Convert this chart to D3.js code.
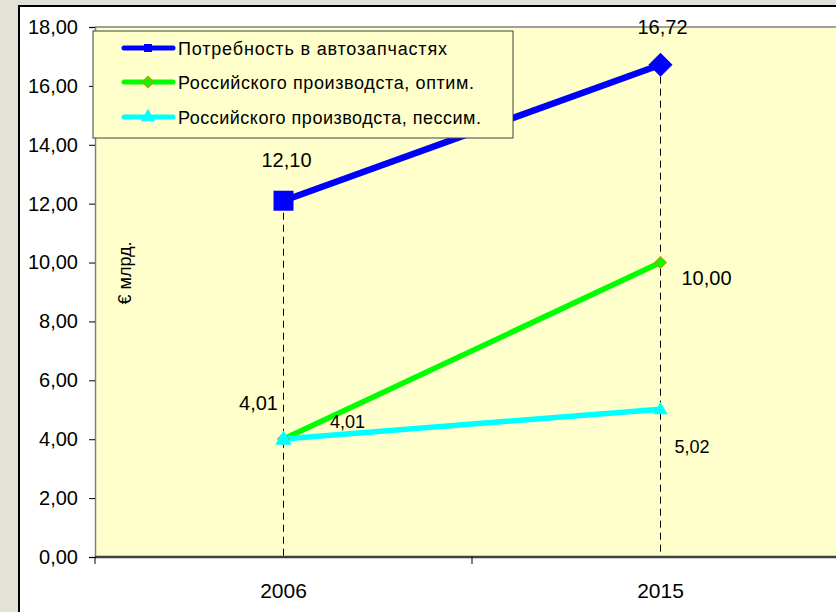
<!DOCTYPE html>
<html><head><meta charset="utf-8">
<script src="https://cdn.jsdelivr.net/npm/d3@7"></script>
<style>
html,body{margin:0;padding:0;background:#e4e2d6;}
svg{display:block;font-family:Arial,"Liberation Sans",sans-serif;}
</style></head>
<body>
<svg id="c" width="836" height="612"></svg>
<script>
const years = ["2006", "2015"];
const seriesNames = ["Потребность в автозапчастях", "Российского производста, оптим.", "Российского производста, пессим."];
const demand = [12.10, 16.72];
const optim = [4.01, 10.00];
const pessim = [4.01, 5.02];
const yTicks = [0, 2, 4, 6, 8, 10, 12, 14, 16, 18];

const svg = d3.select("#c");
const fmt = v => d3.format(".2f")(v).replace(".", ",");

// chart box
svg.append("rect").attr("x", 19).attr("y", 6).attr("width", 900).attr("height", 700)
  .attr("fill", "#ffffff").attr("stroke", "#000").attr("stroke-width", 2);

const plot = {l: 95, t: 27, r: 849, b: 557};
const x = d3.scaleBand().domain(years).range([plot.l, plot.r]);
const y = d3.scaleLinear().domain([0, 18]).range([plot.b, plot.t]);

svg.append("rect").attr("x", plot.l).attr("y", plot.t).attr("width", plot.r - plot.l).attr("height", plot.b - plot.t)
  .attr("fill", "#ffffcc");
svg.append("line").attr("x1", plot.l).attr("x2", plot.r).attr("y1", plot.t).attr("y2", plot.t)
  .attr("stroke", "#808080").attr("stroke-width", 1.5);

// y axis
const yAxis = svg.append("g").attr("transform", `translate(${plot.l},0)`)
  .call(d3.axisLeft(y).tickValues(yTicks).tickSize(6).tickPadding(11).tickFormat(fmt));
yAxis.select(".domain").attr("stroke", "#808080").attr("stroke-width", 1.5);
yAxis.selectAll(".tick line").attr("stroke", "#000");
yAxis.selectAll("text").attr("font-size", 20).attr("fill", "#000").attr("font-family", "Arial, 'Liberation Sans', sans-serif");

// x axis
const xAxis = svg.append("g").attr("transform", `translate(0,${plot.b})`)
  .call(d3.axisBottom(x).tickSize(0).tickPadding(26));
xAxis.select(".domain").remove();
xAxis.selectAll("text").attr("font-size", 21).attr("fill", "#000").attr("font-family", "Arial, 'Liberation Sans', sans-serif");
svg.append("line").attr("x1", plot.l).attr("x2", plot.r).attr("y1", plot.b).attr("y2", plot.b)
  .attr("stroke", "#404040").attr("stroke-width", 2.5);
// band boundary ticks
const bounds = [plot.l, ...years.slice(1).map(d => x(d)), plot.r];
svg.selectAll(".xb").data(bounds).enter().append("line")
  .attr("x1", d => d).attr("x2", d => d).attr("y1", plot.b).attr("y2", plot.b + 7)
  .attr("stroke", "#000").attr("stroke-width", 1);

const cx = d => x(d) + x.bandwidth() / 2;

// drop lines
years.forEach((yr, i) => {
  const top = Math.max(demand[i], optim[i], pessim[i]);
  svg.append("line").attr("x1", cx(yr)).attr("x2", cx(yr)).attr("y1", y(top)).attr("y2", y(0))
    .attr("stroke", "#000").attr("stroke-width", 1).attr("stroke-dasharray", "7,5");
});

// y title
svg.append("text").attr("transform", `translate(131,273) rotate(-90)`)
  .attr("text-anchor", "middle").attr("font-size", 18).text("€ млрд.");

const line = d3.line().x((d, i) => cx(years[i])).y(d => y(d));
const series = [
  {v: demand, color: "#0000ff", w: 6.5},
  {v: optim, color: "#00ff00", w: 5.5},
  {v: pessim, color: "#00ffff", w: 5.5}
];
series.forEach(s => {
  svg.append("path").datum(s.v).attr("d", line).attr("fill", "none")
    .attr("stroke", s.color).attr("stroke-width", s.w);
});

// markers
const sym = (type, size) => d3.symbol().type(type).size(size)();
svg.append("path").attr("d", sym(d3.symbolSquare, 400)).attr("transform", `translate(${cx(years[0])},${y(demand[0])})`).attr("fill", "#0000ff");
svg.append("path").attr("d", sym(d3.symbolSquare, 290)).attr("transform", `translate(${cx(years[1])},${y(demand[1])}) rotate(45)`).attr("fill", "#0000ff");
optim.forEach((v, i) => {
  svg.append("path").attr("d", sym(d3.symbolSquare, 60)).attr("transform", `translate(${cx(years[i])},${y(v)}) rotate(45)`)
    .attr("fill", "#00ff00").attr("stroke", "#99aa00").attr("stroke-width", 1.5);
});
svg.append("path").attr("d", sym(d3.symbolTriangle, 120)).attr("transform", `translate(${cx(years[0])},${y(pessim[0]) + 1})`).attr("fill", "#00ffff");
svg.append("path").attr("d", sym(d3.symbolTriangle, 90)).attr("transform", `translate(${cx(years[1])},${y(pessim[1]) + 1})`).attr("fill", "#00ffff");

// data labels
const labels = [
  {v: demand[0], x: cx(years[0]) + 3, y: y(demand[0]) - 34, fs: 20, a: "middle"},
  {v: demand[1], x: cx(years[1]) + 2, y: y(demand[1]) - 31, fs: 20, a: "middle"},
  {v: optim[1], x: cx(years[1]) + 21, y: y(optim[1]) + 22, fs: 20, a: "start"},
  {v: optim[0], x: cx(years[0]) - 25, y: y(optim[0]) - 29, fs: 20, a: "middle"},
  {v: pessim[0], x: cx(years[0]) + 64, y: y(pessim[0]) - 11, fs: 18, a: "middle"},
  {v: pessim[1], x: cx(years[1]) + 14, y: y(pessim[1]) + 44, fs: 18, a: "start"}
];
svg.selectAll(".dl").data(labels).enter().append("text")
  .attr("x", d => d.x).attr("y", d => d.y).attr("text-anchor", d => d.a)
  .attr("font-size", d => d.fs).attr("fill", "#000").text(d => fmt(d.v));

// legend
const lg = svg.append("g");
lg.append("rect").attr("x", 93).attr("y", 31).attr("width", 420).attr("height", 107)
  .attr("fill", "#ffffcc").attr("stroke", "#404040").attr("stroke-width", 1);
const rowsY = [48, 82, 117];
const widths = [269, 296, 303];
seriesNames.forEach((n, i) => {
  const ry = rowsY[i];
  lg.append("line").attr("x1", 124).attr("x2", 173).attr("y1", ry).attr("y2", ry)
    .attr("stroke", series[i].color).attr("stroke-width", 5).attr("stroke-linecap", "round");
  if (i === 0) lg.append("path").attr("d", sym(d3.symbolSquare, 64)).attr("transform", `translate(148,${ry})`).attr("fill", "#0000ff");
  if (i === 1) lg.append("path").attr("d", sym(d3.symbolSquare, 60)).attr("transform", `translate(148,${ry}) rotate(45)`).attr("fill", "#00ff00").attr("stroke", "#99aa00").attr("stroke-width", 1.5);
  if (i === 2) lg.append("path").attr("d", sym(d3.symbolTriangle, 90)).attr("transform", `translate(148,${ry})`).attr("fill", "#00ffff");
  lg.append("text").attr("x", 178).attr("y", ry + 6.5).attr("font-size", 18)
    .attr("textLength", widths[i]).attr("lengthAdjust", "spacing").attr("fill", "#000").text(n);
});
</script>
</body></html>
